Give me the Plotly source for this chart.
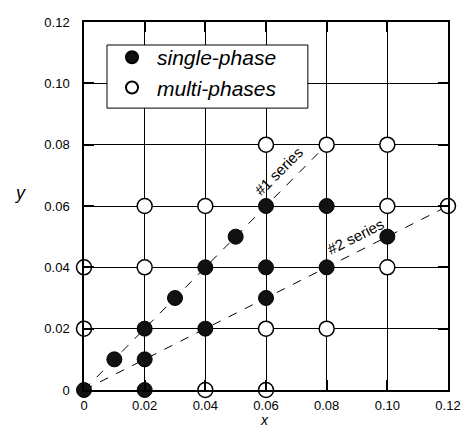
import plotly.graph_objects as go

single_x = [0, 0.01, 0.02, 0.02, 0.02, 0.03, 0.04, 0.04, 0.05, 0.06, 0.06, 0.06, 0.08, 0.08, 0.10]
single_y = [0, 0.01, 0.02, 0.01, 0.00, 0.03, 0.04, 0.02, 0.05, 0.06, 0.04, 0.03, 0.06, 0.04, 0.05]

multi_x = [0, 0, 0.02, 0.02, 0.04, 0.04, 0.06, 0.08, 0.10, 0.10, 0.12, 0.10, 0.06, 0.08, 0.06]
multi_y = [0.04, 0.02, 0.04, 0.06, 0.06, 0.00, 0.08, 0.08, 0.08, 0.06, 0.06, 0.04, 0.02, 0.02, 0.00]

series1_x = [0, 0.08]
series1_y = [0, 0.08]
series2_x = [0, 0.12]
series2_y = [0, 0.06]

tick_vals = [0, 0.02, 0.04, 0.06, 0.08, 0.10, 0.12]
tick_text = ["0", "0.02", "0.04", "0.06", "0.08", "0.10", "0.12"]

FONT = "Arial, Liberation Sans, sans-serif"

fig = go.Figure()
fig.add_trace(go.Scatter(x=series1_x, y=series1_y, mode="lines", showlegend=False,
                         line=dict(color="black", width=1, dash="dash")))
fig.add_trace(go.Scatter(x=series2_x, y=series2_y, mode="lines", showlegend=False,
                         line=dict(color="black", width=1, dash="dash")))
fig.add_trace(go.Scatter(x=single_x, y=single_y, mode="markers", name="<i>single-phase</i>",
                         cliponaxis=False,
                         marker=dict(size=15, color="#111111", line=dict(color="black", width=1))))
fig.add_trace(go.Scatter(x=multi_x, y=multi_y, mode="markers", name="<i>multi-phases</i>",
                         cliponaxis=False,
                         marker=dict(size=15, color="white", line=dict(color="black", width=1.5))))

# legend frame (white box covering grid)
fig.add_shape(type="rect", xref="paper", yref="paper", x0=0.0632, x1=0.615, y0=0.766, y1=0.9375,
              fillcolor="white", line=dict(color="black", width=1), layer="above")

fig.add_annotation(x=0.064, y=0.0714, text="#1 series", showarrow=False, textangle=-45,
                   font=dict(family=FONT, size=15, color="black"))
fig.add_annotation(x=0.0894, y=0.0502, text="#2 series", showarrow=False, textangle=-26.6,
                   font=dict(family=FONT, size=15, color="black"))
fig.add_annotation(x=-0.176, y=0.535, xref="paper", yref="paper", text="<i>y</i>", showarrow=False,
                   xanchor="center", yanchor="middle",
                   font=dict(family=FONT, size=18, color="black"))
fig.add_annotation(x=0.497, y=-0.081, xref="paper", yref="paper", text="<i>x</i>", showarrow=False,
                   xanchor="center", yanchor="middle",
                   font=dict(family=FONT, size=14, color="black"))

axis_common = dict(
    tickvals=tick_vals, ticktext=tick_text, showgrid=True, gridcolor="black", gridwidth=1,
    zeroline=False, showline=True, linecolor="black", linewidth=1.5, mirror="ticks",
    ticks="inside", ticklen=10, tickwidth=1.5, tickcolor="black", automargin=False,
    tickfont=dict(family=FONT, size=13, color="black"),
)

fig.update_xaxes(range=[0, 0.12], ticklabelstandoff=3, **axis_common)
fig.update_yaxes(range=[0, 0.12], ticklabelstandoff=10, **axis_common)

fig.update_layout(
    width=454, height=420,
    margin=dict(l=76, r=14, t=14, b=38, autoexpand=False),
    plot_bgcolor="white", paper_bgcolor="white",
    font=dict(family=FONT, color="black"),
    legend=dict(x=0.0632, y=0.959, xanchor="left", yanchor="top",
                bgcolor="rgba(0,0,0,0)", borderwidth=0,
                font=dict(family=FONT, size=21, color="black"),
                itemsizing="constant", itemwidth=40, tracegroupgap=0),
)

fig.write_html("out.html")
